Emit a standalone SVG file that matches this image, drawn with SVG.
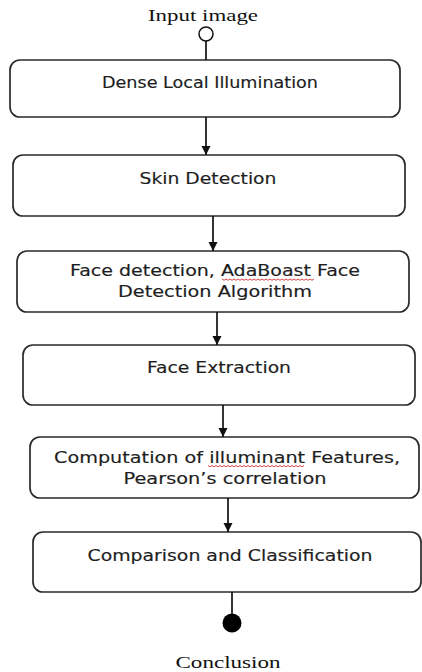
<svg xmlns="http://www.w3.org/2000/svg" width="422" height="672" viewBox="0 0 422 672">
  <style>
    .box { fill: #ffffff; stroke: #2a2a2a; stroke-width: 1.7; }
    .lbl { font-family: "DejaVu Sans", "Open Sans", sans-serif; font-size: 15px; fill: #1e1e1e; text-anchor: middle; stroke: #1e1e1e; stroke-width: 0.15; }
    .term { font-family: "Liberation Serif", "Times New Roman", serif; font-size: 16px; fill: #111111; text-anchor: middle; }
    .edge { stroke: #111111; stroke-width: 1.7; fill: none; }
    .squiggle { stroke: #d03030; stroke-width: 0.9; fill: none; }
  </style>
  <defs>
    <marker id="arrow" viewBox="0 0 10 10" refX="10" refY="5" markerWidth="5.5" markerHeight="5.5" orient="auto">
      <path d="M0,0 L10,5 L0,10 Z" fill="#111111"/>
    </marker>
  </defs>
  <rect width="422" height="672" fill="#ffffff"/>

  <g id="start">
    <text class="term" x="203" y="21" textLength="110" lengthAdjust="spacingAndGlyphs">Input image</text>
    <circle cx="206" cy="34" r="7" fill="#ffffff" stroke="#111111" stroke-width="1.5"/>
  </g>

  <g id="dense-local-illumination">
    <rect class="box" x="10" y="60" width="390" height="57" rx="10"/>
    <text class="lbl" x="210" y="88" textLength="216" lengthAdjust="spacingAndGlyphs">Dense Local Illumination</text>
  </g>

  <g id="skin-detection">
    <rect class="box" x="13" y="155" width="392" height="61" rx="10"/>
    <text class="lbl" x="208" y="184" textLength="137" lengthAdjust="spacingAndGlyphs">Skin Detection</text>
  </g>

  <g id="face-detection">
    <rect class="box" x="17" y="251" width="392" height="61" rx="10"/>
    <text class="lbl" x="215" y="276" textLength="290" lengthAdjust="spacingAndGlyphs">Face detection, AdaBoast Face</text>
    <text class="lbl" x="215" y="297" textLength="194" lengthAdjust="spacingAndGlyphs">Detection Algorithm</text>
    <!-- spell-check underline -->
    <path class="squiggle" d="M222,279 l2,1.3 l2,-1.3 l2,1.3 l2,-1.3 l2,1.3 l2,-1.3 l2,1.3 l2,-1.3 l2,1.3 l2,-1.3 l2,1.3 l2,-1.3 l2,1.3 l2,-1.3 l2,1.3 l2,-1.3 l2,1.3 l2,-1.3 l2,1.3 l2,-1.3 l2,1.3 l2,-1.3 l2,1.3 l2,-1.3 l2,1.3 l2,-1.3 l2,1.3 l2,-1.3 l2,1.3 l2,-1.3 l2,1.3 l2,-1.3 l2,1.3 l2,-1.3 l2,1.3 l2,-1.3 l2,1.3 l2,-1.3 l2,1.3 l2,-1.3 l2,1.3 l2,-1.3 l2,1.3 l2,-1.3 l2,1.3 l2,-1.3"/>
  </g>

  <g id="face-extraction">
    <rect class="box" x="23" y="345" width="392" height="60" rx="10"/>
    <text class="lbl" x="219" y="373" textLength="144" lengthAdjust="spacingAndGlyphs">Face Extraction</text>
  </g>

  <g id="illuminant-features">
    <rect class="box" x="30" y="437" width="389" height="61" rx="10"/>
    <text class="lbl" x="227" y="463" textLength="346" lengthAdjust="spacingAndGlyphs">Computation of illuminant Features,</text>
    <text class="lbl" x="225" y="484" textLength="203" lengthAdjust="spacingAndGlyphs">Pearson’s correlation</text>
    <!-- spell-check underline -->
    <path class="squiggle" d="M208,465.5 l2,1.3 l2,-1.3 l2,1.3 l2,-1.3 l2,1.3 l2,-1.3 l2,1.3 l2,-1.3 l2,1.3 l2,-1.3 l2,1.3 l2,-1.3 l2,1.3 l2,-1.3 l2,1.3 l2,-1.3 l2,1.3 l2,-1.3 l2,1.3 l2,-1.3 l2,1.3 l2,-1.3 l2,1.3 l2,-1.3 l2,1.3 l2,-1.3 l2,1.3 l2,-1.3 l2,1.3 l2,-1.3 l2,1.3 l2,-1.3 l2,1.3 l2,-1.3 l2,1.3 l2,-1.3 l2,1.3 l2,-1.3 l2,1.3 l2,-1.3 l2,1.3 l2,-1.3 l2,1.3 l2,-1.3 l2,1.3 l2,-1.3 l2,1.3 l2,-1.3"/>
  </g>

  <g id="comparison-classification">
    <rect class="box" x="33" y="532" width="388" height="60" rx="10"/>
    <text class="lbl" x="230" y="561" textLength="285" lengthAdjust="spacingAndGlyphs">Comparison and Classification</text>
  </g>

  <g id="end">
    <circle cx="232" cy="623" r="9.5" fill="#000000"/>
    <text class="term" x="228" y="668" textLength="105" lengthAdjust="spacingAndGlyphs">Conclusion</text>
  </g>

  <g id="connectors">
    <line class="edge" x1="206" y1="41" x2="206" y2="60"/>
    <line class="edge" x1="206" y1="117" x2="206" y2="155" marker-end="url(#arrow)"/>
    <line class="edge" x1="213" y1="216" x2="213" y2="251" marker-end="url(#arrow)"/>
    <line class="edge" x1="217" y1="312" x2="217" y2="345" marker-end="url(#arrow)"/>
    <line class="edge" x1="223" y1="405" x2="223" y2="437" marker-end="url(#arrow)"/>
    <line class="edge" x1="228" y1="498" x2="228" y2="532" marker-end="url(#arrow)"/>
    <line class="edge" x1="232" y1="592" x2="232" y2="614"/>
  </g>
</svg>
